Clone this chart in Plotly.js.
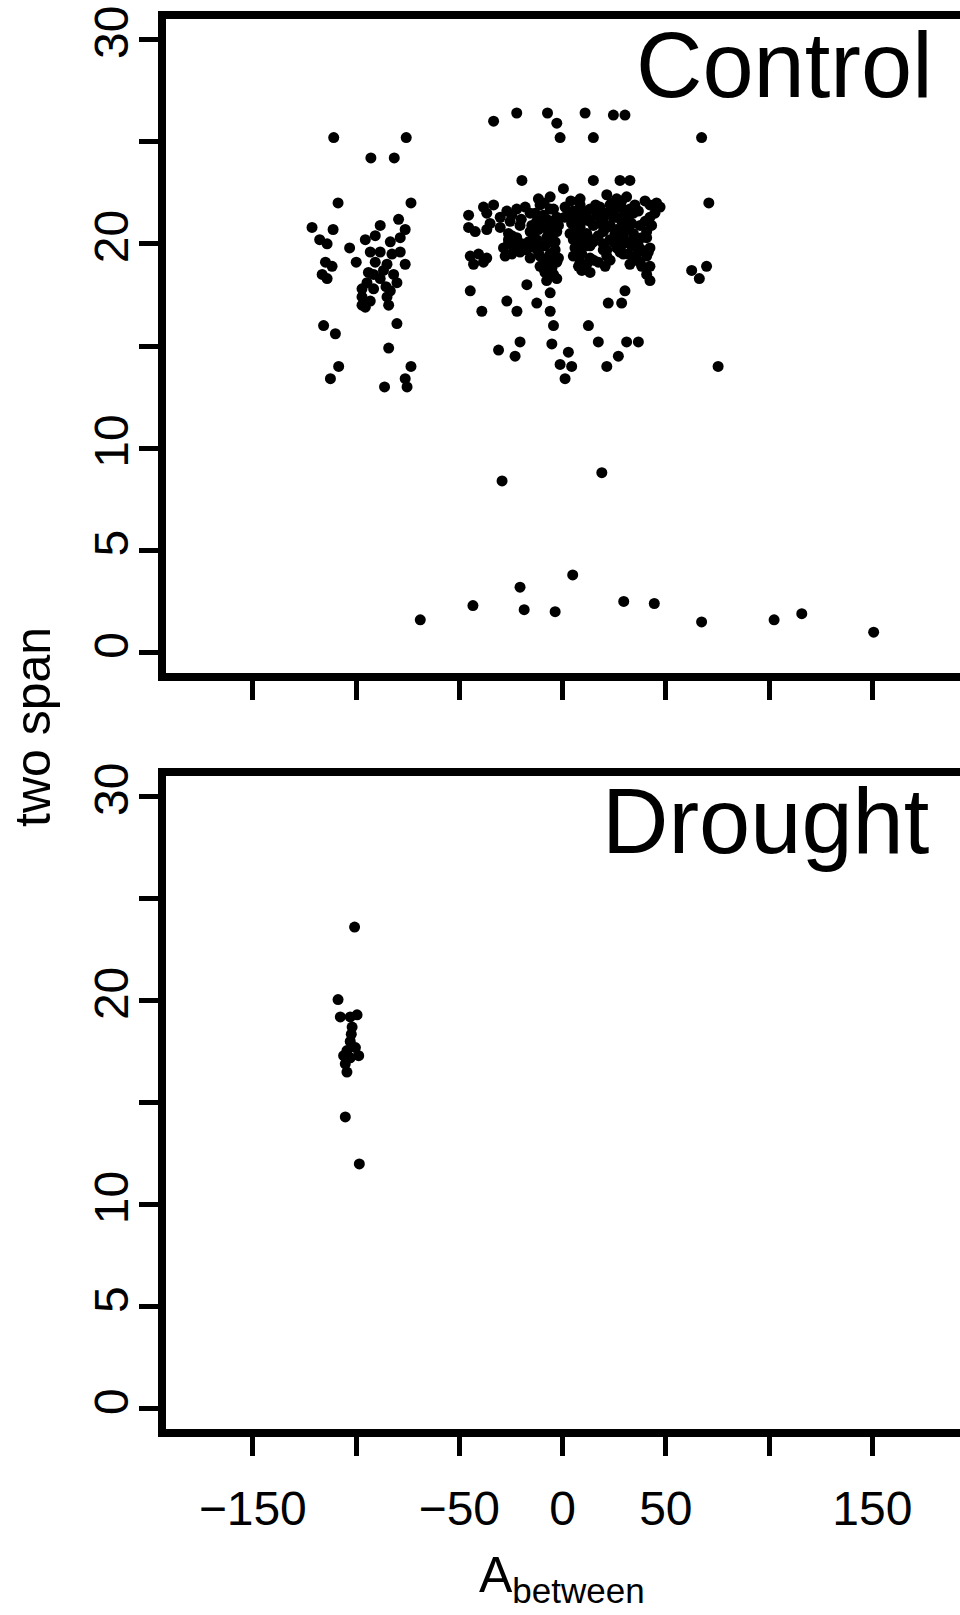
<!DOCTYPE html>
<html><head><meta charset="utf-8">
<script src="https://cdn.plot.ly/plotly-3.0.1.min.js"></script>
<style>html,body{margin:0;padding:0;background:#fff;} #chart{width:960px;height:1615px;}</style>
</head><body><div id="chart"></div>
<script>
// ---- Control panel: left cluster ----
const ctrlLeftX = [-110.8,-75.7,-92.8,-81.5,-108.7,-73.4,-121.3,-111.1,-117.6,-114.0,-103.1,-88.3,-79.4,-76.2,-95.5,-83.4,-93.1,-78.6,-99.9,-90.7,-85.0,-76.2,-114.8,-111.6,-116.4,-114.0,-81.8,-80.2,-94.7,-97.1,-91.5,-97.1,-93.1,-97.1,-85.0,-84.2,-83.4,-88.3,-91.5,-80.2,-115.7,-110.0,-84.2,-108.4,-73.4,-112.4,-76.2,-75.3,-86.2,-88.3,-90.7,-85.5,-95.5,-82.6,-78.6,-94.0,-86.7];
const ctrlLeftY = [25.2,25.2,24.2,24.2,22.0,22.0,20.8,20.7,20.2,20.0,19.8,20.9,21.2,20.7,20.2,20.1,19.6,19.6,19.1,19.1,19.0,19.0,19.1,18.9,18.5,18.3,18.5,18.1,18.1,17.8,17.8,17.4,17.2,17.0,17.4,17.0,17.7,18.3,18.5,16.1,16.0,15.6,14.9,14.0,14.0,13.4,13.4,13.0,13.0,19.6,20.4,17.9,16.9,19.5,20.3,18.6,18.7];
// ---- Control panel: central dense cluster ----
const ctrlCoreX = [
 -11.7,-6.0,8.5,21.4,26.2,31.0,39.9,45.5,
 -8.9,4.0,16.0,23.8,28.6,35.0,
 -38.3,-33.4,-22.2,-18.1,-10.9,-6.0,1.2,8.5,13.3,18.1,23.0,27.8,32.6,42.3,47.2,
 -27.0,-13.3,-4.4,5.2,10.0,14.9,19.7,24.6,29.4,36.7,44.7,
 -45.5,-36.7,-30.2,-24.6,-15.7,-9.3,-2.8,3.6,7.7,11.7,16.5,21.4,26.2,30.2,34.3,42.3,
 -20.0,-12.5,-7.7,1.0,6.0,13.3,19.7,24.6,31.8,40.0,
 -35.1,-25.4,-14.9,-10.9,-6.0,-2.0,4.4,9.3,18.1,23.0,28.6,33.4,43.1,
 -30.2,-20.6,-8.5,-4.4,8.5,14.9,21.4,26.2,31.8,37.5,
 -45.5,-42.3,-36.7,-26.2,-15.7,-11.7,-6.8,-2.8,6.9,11.7,19.7,29.4,34.3,40.7,
 -24.6,-14.1,-5.2,3.6,8.5,12.5,17.3,25.4,29.4,38.3,
 -26.2,-22.2,-16.5,-12.5,-7.7,-3.6,5.2,10.1,14.9,23.0,27.0,31.8,35.9,40.7,
 -26.2,-19.7,-10.1,-5.2,8.5,13.3,19.7,24.6,29.4,36.7,
 -28.6,-23.8,-17.3,-13.3,-8.5,-3.6,6.0,11.7,21.4,26.2,33.4,38.3,42.3,
 -20.6,-11.7,-4.4,7.7,19.7,27.8,31.8,36.7,41.5,
 -44.7,-40.7,-36.7,-27.8,-24.6,-15.7,-10.9,-6.0,-2.0,5.2,9.3,13.3,21.4,29.4,34.3,40.7,
 -8.5,-4.4,8.5,15.0,23.0,35.0,
 -43.1,-38.3,-10.9,-6.8,-2.8,7.7,11.7,17.3,20.6,32.6,37.5,42.3,
 -9.3,-5.2,10.9,38.3,
 -8.5,-4.4,9.3,13.3,40.7,
 -7.7,-2.8,42.3];
const ctrlCoreY = [
 22.2,22.3,22.2,22.4,22.2,22.3,22.1,22.0,
 22.0,22.1,21.9,22.0,22.1,21.9,
 21.8,21.9,21.7,21.8,21.9,21.7,21.8,21.9,21.7,21.8,21.9,21.8,21.7,21.9,21.8,
 21.6,21.5,21.7,21.6,21.6,21.7,21.5,21.6,21.7,21.6,21.5,
 21.4,21.5,21.3,21.4,21.5,21.4,21.3,21.4,21.5,21.3,21.4,21.5,21.3,21.4,21.5,21.3,
 21.2,21.1,21.2,21.3,21.2,21.1,21.2,21.3,21.2,21.1,
 21.0,21.1,20.9,21.0,21.1,20.9,21.0,21.1,21.0,20.9,21.1,21.0,20.9,
 20.8,20.9,20.8,20.7,20.8,20.9,20.8,20.7,20.8,20.9,
 20.8,20.6,20.7,20.5,20.6,20.7,20.5,20.6,20.7,20.5,20.6,20.7,20.5,20.6,
 20.4,20.4,20.3,20.5,20.4,20.3,20.4,20.5,20.4,20.3,
 20.2,20.3,20.1,20.2,20.3,20.1,20.2,20.3,20.1,20.2,20.3,20.1,20.2,20.3,
 20.0,20.0,19.9,20.1,20.0,19.9,20.0,20.1,20.0,19.9,
 19.8,19.9,19.7,19.8,19.9,19.7,19.8,19.9,19.7,19.8,19.9,19.7,19.8,
 19.6,19.6,19.5,19.6,19.7,19.6,19.5,19.6,19.6,
 19.4,19.5,19.3,19.4,19.5,19.3,19.4,19.5,19.3,19.4,19.5,19.3,19.4,19.5,19.3,19.4,
 19.2,19.2,19.1,19.2,19.2,19.2,
 19.0,19.1,18.9,19.0,19.1,18.9,19.0,19.1,18.9,19.0,19.1,18.9,
 18.8,18.8,18.8,18.9,
 18.6,18.5,18.7,18.6,18.5,
 18.2,18.3,18.2];
// ---- Control panel: scattered points around the centre ----
const ctrlScatX = [-33.4,-22.2,-7.3,-2.8,10.9,24.6,30.2,-1.2,14.9,-19.7,14.9,27.8,32.6,0.4,
 -17.3,-44.7,-6.0,30.2,-39.1,-27.0,-22.1,-12.5,-6.0,22.1,28.6,-4.4,12.5,-31.0,-23.0,-20.6,-5.2,2.8,-1.2,4.4,1.2,17.3,31.0,36.7,27.0,21.4,
 67.3,70.8,62.5,69.7,66.2,75.3];
const ctrlScatY = [26.0,26.4,26.4,25.9,26.4,26.3,26.3,25.2,25.2,23.1,23.1,23.1,23.1,22.7,
 18.0,17.7,17.6,17.7,16.7,17.2,16.7,17.1,16.7,17.1,17.1,16.0,16.0,14.8,14.5,15.2,15.1,14.7,14.1,14.0,13.4,15.2,15.2,15.2,14.5,14.0,
 25.2,22.0,18.7,18.9,18.3,14.0];
// ---- Control panel: low values ----
const ctrlLowX = [-68.9,-43.4,-29.3,-20.6,-18.6,-3.6,4.9,19.0,29.6,44.4,67.3,102.4,115.8,150.6];
const ctrlLowY = [1.6,2.3,8.4,3.2,2.1,2.0,3.8,8.8,2.5,2.4,1.5,1.6,1.9,1.0];
// ---- Drought panel ----
const droughtX = [-100.7,-108.7,-107.6,-102.8,-99.5,-101.9,-102.3,-102.8,-104.4,-100.3,-98.7,-106.0,-102.8,-105.2,-104.4,-105.2,-98.4];
const droughtY = [23.6,20.05,19.2,19.2,19.3,18.7,18.35,18.0,17.55,17.7,17.3,17.3,17.2,16.9,16.5,14.3,12.0];
// ---- Axis ticks and labels ----
const xTickVals = [-150,-50,0,50,150];
const xTickText = ['\u2212150','\u221250','0','50','150'];
const xMinorTicks = [-100,100];
const yTickVals = [0,5,10,20,30];
const yTickText = ['0','5','10','20','30'];
const yMinorTicks = [15,25];
const panelNames = ['Control','Drought'];
const xTitle = 'A<sub>between</sub>';
const yTitle = 'two span';

const controlX = ctrlLeftX.concat(ctrlCoreX, ctrlScatX, ctrlLowX);
const controlY = ctrlLeftY.concat(ctrlCoreY, ctrlScatY, ctrlLowY);

const FONT = '"Liberation Sans", Arial, Helvetica, sans-serif';
const W = 960, H = 1615, L = 166;
const pxX = px => (px - L) / (W - L);
const pxY = py => (H - py) / H;

const marker = {color:'#000', size:11, line:{width:0}};
const traces = [
  {x: controlX, y: controlY, type:'scatter', mode:'markers', marker, xaxis:'x', yaxis:'y', hoverinfo:'skip'},
  {x: droughtX, y: droughtY, type:'scatter', mode:'markers', marker, xaxis:'x2', yaxis:'y2', hoverinfo:'skip'}
];

const tickStyle = {ticks:'outside', ticklen:19, tickwidth:5, tickcolor:'#000'};
const xBase = Object.assign({range:[-192,192.4], showline:true, linewidth:8, linecolor:'#000', mirror:true,
  tickmode:'array', tickvals:xTickVals, ticktext:xTickText,
  minor: Object.assign({tickmode:'array', tickvals:xMinorTicks, showgrid:false}, tickStyle),
  showgrid:false, zeroline:false, ticklabelstandoff:11, tickfont:{family:FONT, size:48, color:'#000'}}, tickStyle);
const yBase = Object.assign({range:[-1,31], showline:true, linewidth:8, linecolor:'#000', mirror:false,
  tickmode:'array', tickvals:yTickVals, ticktext:yTickText,
  minor: Object.assign({tickmode:'array', tickvals:yMinorTicks, showgrid:false}, tickStyle),
  tickangle:-90, ticklabelstandoff:-8, showgrid:false, zeroline:false, tickfont:{family:FONT, size:48, color:'#000'}}, tickStyle);

const layout = {
  width: W, height: H,
  margin: {l:L, r:0, t:0, b:0},
  paper_bgcolor:'#fff', plot_bgcolor:'#fff', showlegend:false,
  font:{family:FONT, color:'#000'},
  xaxis: Object.assign({}, xBase, {domain:[0,1], anchor:'y', showticklabels:false}),
  yaxis: Object.assign({}, yBase, {domain:[pxY(673), pxY(19)], anchor:'x'}),
  xaxis2: Object.assign({}, xBase, {domain:[0,1], anchor:'y2', showticklabels:true}),
  yaxis2: Object.assign({}, yBase, {domain:[pxY(1429.3), pxY(776)], anchor:'x2'}),
  annotations: [
    {text: panelNames[0], xref:'paper', yref:'paper', x:pxX(935), y:pxY(65), xanchor:'right', yanchor:'middle', showarrow:false, font:{family:FONT, size:92, color:'#000'}},
    {text: panelNames[1], xref:'paper', yref:'paper', x:pxX(931), y:pxY(821), xanchor:'right', yanchor:'middle', showarrow:false, font:{family:FONT, size:92, color:'#000'}},
    {text: yTitle, xref:'paper', yref:'paper', x:pxX(33), y:pxY(727), xanchor:'center', yanchor:'middle', textangle:-90, showarrow:false, font:{family:FONT, size:50, color:'#000'}},
    {text: xTitle, xref:'paper', yref:'paper', x:pxX(477), y:pxY(1578), xanchor:'left', yanchor:'middle', showarrow:false, font:{family:FONT, size:50, color:'#000'}}
  ]
};

Plotly.newPlot('chart', traces, layout, {staticPlot:true, displayModeBar:false});
</script></body></html>
